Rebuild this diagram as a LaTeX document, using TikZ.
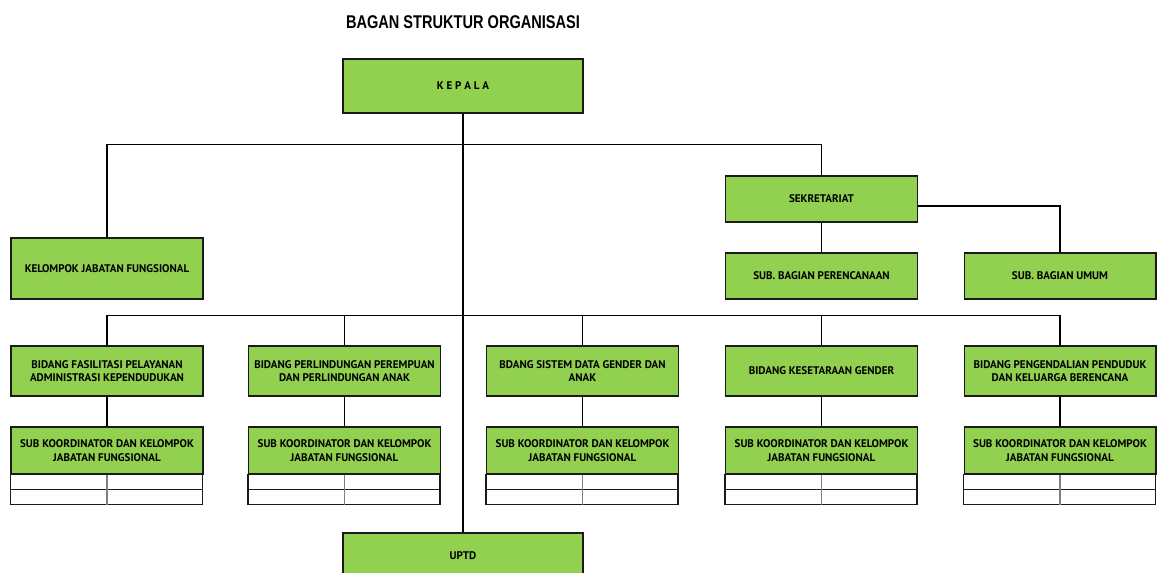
\documentclass[tikz,border=0pt]{standalone}
\usepackage{fontspec}
\setmainfont{PT Sans}
\newfontfamily\titlefont[FakeStretch=0.79]{Liberation Sans}
\usetikzlibrary{positioning,calc}
\definecolor{kgreen}{HTML}{92D050}
\definecolor{kline}{HTML}{1A1A1A}
\definecolor{kgray}{HTML}{7F7F7F}

\begin{document}
\begin{tikzpicture}[x=0.02cm,y=-0.02cm,
    unit/.style={draw=kline,fill=kgreen,line width=0.6pt,inner sep=0pt,
      minimum width=3.84cm,minimum height=0.92cm,align=center,
      font=\bfseries\fontsize{6.3}{7.8}\selectfont},
    link/.style={draw=black,line width=0.85pt},
    cell/.style={draw=kline,fill=white,line width=0.6pt}]
  \useasboundingbox (0,0) rectangle (1157,572);
  \clip (0,0) rectangle (1157,572);

  % Title
  \node[font=\titlefont\bfseries\fontsize{10.5}{12}\selectfont] (judul) at (463,22)
    {BAGAN STRUKTUR ORGANISASI};

  % Top level
  \node[unit,minimum width=4.8cm,minimum height=1.08cm] (kepala) at (463,86)
    {K E P A L A};
  \node[unit,minimum height=1.22cm] (kjf) at (107,268.5) {KELOMPOK JABATAN FUNGSIONAL};
  \node[unit] (sekre) at (821.5,199) {SEKRETARIAT};
  \node[unit] (perenc) at (821.5,276) {SUB. BAGIAN PERENCANAAN};
  \node[unit] (umum) at (1060,276) {SUB. BAGIAN UMUM};
  \node[unit,minimum width=4.8cm] (uptd) at (463,556) {UPTD};

  % Connectors
  \draw[link] (kepala) -- (uptd);
  \draw[link] (kjf.north) -- ++(0,-93) -| (sekre.north);
  \draw[link] (sekre) -- (perenc);
  \draw[link] ([yshift=-4pt]sekre.east) -| (umum.north);

  % Bidang and sub koordinator
  \foreach \n/\x/\txt in {1/107/{BIDANG FASILITASI PELAYANAN\\ADMINISTRASI KEPENDUDUKAN},
      2/344.5/{BIDANG PERLINDUNGAN PEREMPUAN\\DAN PERLINDUNGAN ANAK},
      3/582.5/{BDANG SISTEM DATA GENDER DAN\\ANAK},
      4/821.5/{BIDANG KESETARAAN GENDER},
      5/1060/{BIDANG PENGENDALIAN PENDUDUK\\DAN KELUARGA BERENCANA}}{
    \node[unit,minimum height=1cm] (bid\n) at (\x,371) {\txt};
    \node[unit,minimum height=0.94cm] (sub\n) at (\x,450.5)
      {SUB KOORDINATOR DAN KELOMPOK\\JABATAN FUNGSIONAL};
    \draw[cell] (sub\n.south west) rectangle ++(192,15) rectangle ++(-192,15);
    \draw[line width=0.6pt,kgray] (sub\n.south) -- ++(0,30);
    \draw[link] (bid\n) -- (sub\n);
    \draw[link] (bid\n.north) -- ++(0,-30);
  }
  \draw[link] (bid1.north) -- ++(0,-30) -| (bid5.north);
\end{tikzpicture}
\end{document}
